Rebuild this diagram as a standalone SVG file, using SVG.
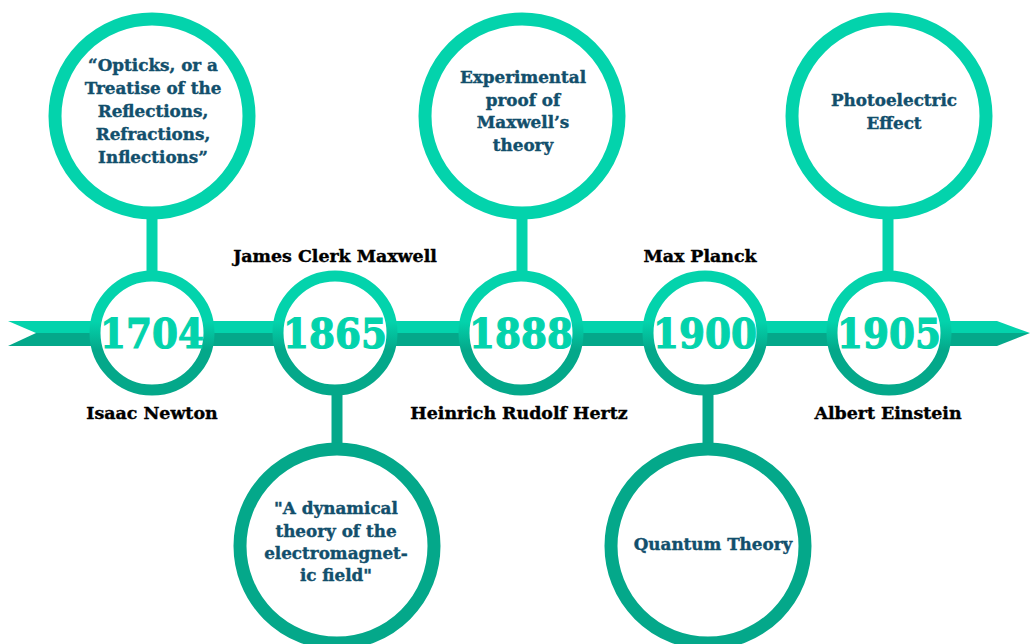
<svg xmlns="http://www.w3.org/2000/svg" width="1030" height="644" viewBox="0 0 1030 644">
<style>
.big-top{fill:#fff;stroke:#03D3AC;stroke-width:13}
.big-bot{fill:#fff;stroke:#04A88A;stroke-width:13}
.yr{fill:#fff;stroke:url(#g);stroke-width:11}
.stem-top{stroke:#03D3AC;stroke-width:11}
.stem-bot{stroke:#04A88A;stroke-width:11}
.yt{font-family:"DejaVu Serif",serif;font-weight:bold;font-size:41px;fill:#03D3AC;stroke:#03D3AC;stroke-width:1.2;text-anchor:middle}
.ct{font-family:"DejaVu Serif",serif;font-weight:bold;font-size:16.8px;fill:#124F6C;stroke:#124F6C;stroke-width:0.4;text-anchor:middle}
.nm{font-family:"DejaVu Serif",serif;font-weight:bold;font-size:17.4px;fill:#000;stroke:#000;stroke-width:0.4;text-anchor:middle}
</style>
<defs>
<linearGradient id="g" x1="0" y1="0" x2="0" y2="1">
<stop offset="0" stop-color="#03D3AC"/>
<stop offset="0.4" stop-color="#03D3AC"/>
<stop offset="0.65" stop-color="#04A88A"/>
<stop offset="1" stop-color="#04A88A"/>
</linearGradient>
</defs>
<rect width="1030" height="644" fill="#fff"/>
<g id="connectors">
<polygon points="8,321 997,321 1030,333 36,333" fill="#03D3AC"/>
<polygon points="36,333 1030,333 997,346 8,346" fill="#04A88A"/>
<line class="stem-top" x1="152" y1="215" x2="152" y2="275"/>
<line class="stem-top" x1="522" y1="215" x2="522" y2="275"/>
<line class="stem-top" x1="888" y1="215" x2="888" y2="275"/>
<line class="stem-bot" x1="337" y1="390" x2="337" y2="446"/>
<line class="stem-bot" x1="708" y1="390" x2="708" y2="446"/>
</g>
<g id="n1704">
<circle class="yr" cx="152" cy="333" r="57"/>
<text class="yt" x="152" y="348" textLength="104" lengthAdjust="spacingAndGlyphs">1704</text>
</g>
<g id="n1865">
<circle class="yr" cx="335" cy="333" r="57"/>
<text class="yt" x="335" y="348" textLength="104" lengthAdjust="spacingAndGlyphs">1865</text>
</g>
<g id="n1888">
<circle class="yr" cx="521" cy="333" r="57"/>
<text class="yt" x="521" y="348" textLength="104" lengthAdjust="spacingAndGlyphs">1888</text>
</g>
<g id="n1900">
<circle class="yr" cx="705" cy="333" r="57"/>
<text class="yt" x="705" y="348" textLength="104" lengthAdjust="spacingAndGlyphs">1900</text>
</g>
<g id="n1905">
<circle class="yr" cx="889" cy="333" r="57"/>
<text class="yt" x="889" y="348" textLength="104" lengthAdjust="spacingAndGlyphs">1905</text>
</g>
<g id="c1704">
<circle class="big-top" cx="152" cy="116" r="97"/>
<text class="ct" x="153" y="71">“Opticks, or a</text>
<text class="ct" x="153" y="94">Treatise of the</text>
<text class="ct" x="153" y="117">Reflections,</text>
<text class="ct" x="153" y="140">Refractions,</text>
<text class="ct" x="153" y="163">Inflections”</text>
</g>
<g id="c1888">
<circle class="big-top" cx="522" cy="116" r="97"/>
<text class="ct" x="523" y="83">Experimental</text>
<text class="ct" x="523" y="106">proof of</text>
<text class="ct" x="523" y="128">Maxwell’s</text>
<text class="ct" x="523" y="151">theory</text>
</g>
<g id="c1905">
<circle class="big-top" cx="889" cy="116" r="97"/>
<text class="ct" x="894" y="106">Photoelectric</text>
<text class="ct" x="894" y="129">Effect</text>
</g>
<g id="c1865">
<circle class="big-bot" cx="337" cy="546" r="97"/>
<text class="ct" x="336" y="514">"A dynamical</text>
<text class="ct" x="336" y="537">theory of the</text>
<text class="ct" x="336" y="559">electromagnet-</text>
<text class="ct" x="336" y="581">ic field"</text>
</g>
<g id="c1900">
<circle class="big-bot" cx="708" cy="546" r="97"/>
<text class="ct" x="713" y="550">Quantum Theory</text>
</g>
<g id="names">
<text class="nm" x="335" y="262">James Clerk Maxwell</text>
<text class="nm" x="152" y="419">Isaac Newton</text>
<text class="nm" x="519" y="419">Heinrich Rudolf Hertz</text>
<text class="nm" x="700" y="262">Max Planck</text>
<text class="nm" x="888" y="419">Albert Einstein</text>
</g>
</svg>
